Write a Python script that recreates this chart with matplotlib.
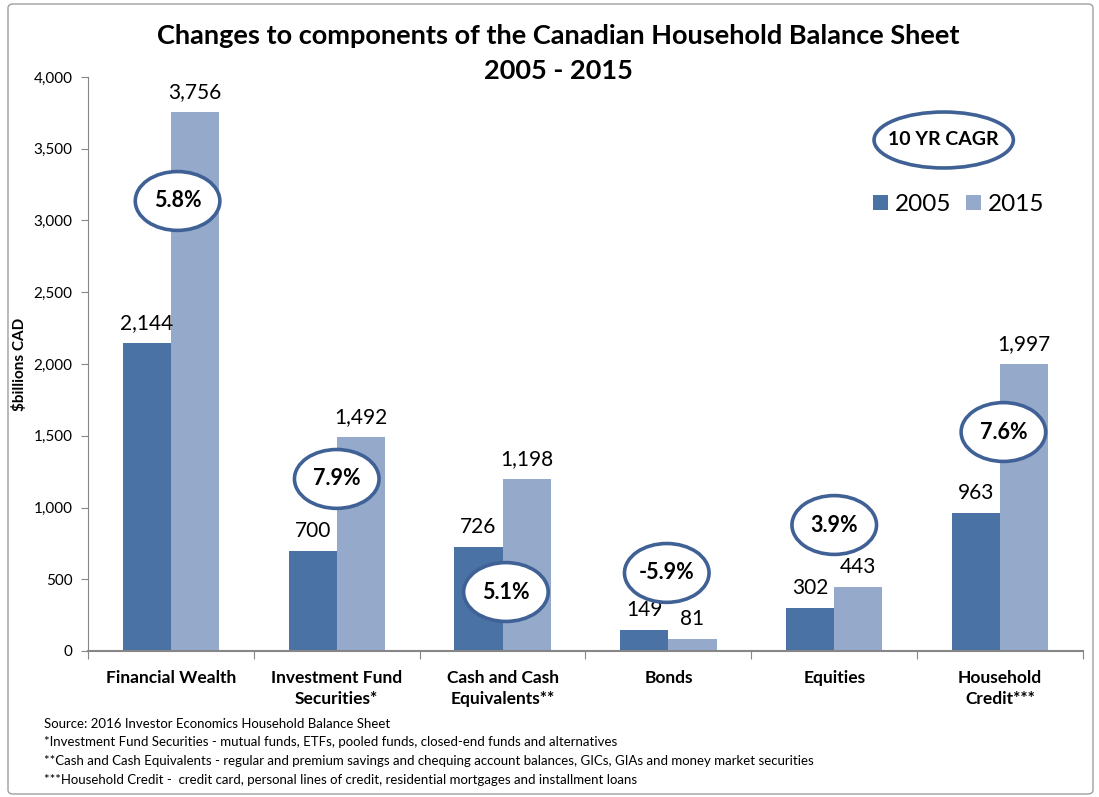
import numpy as np
import matplotlib
matplotlib.use("Agg")
import matplotlib.pyplot as plt
from matplotlib.patches import Ellipse, FancyBboxPatch

plt.rcParams['font.family'] = ['Lato', 'DejaVu Sans']

# datos
categorias = ["Financial Wealth", "Investment Fund\nSecurities*", "Cash and Cash\nEquivalents**",
              "Bonds", "Equities", "Household\nCredit***"]
v2005 = [2144, 700, 726, 149, 302, 963]
v2015 = [3756, 1492, 1198, 81, 443, 1997]
cagr = ["5.8%", "7.9%", "5.1%", "-5.9%", "3.9%", "7.6%"]
notas = ["Source: 2016 Investor Economics Household Balance Sheet",
         "*Investment Fund Securities - mutual funds, ETFs, pooled funds, closed-end funds and alternatives",
         "**Cash and Cash Equivalents - regular and premium savings and chequing account balances, GICs, GIAs and money market securities",
         "***Household Credit -  credit card, personal lines of credit, residential mortgages and installment loans"]

c05 = "#4A72A4"
c15 = "#95A9CB"
borde = "#3F6195"
gris = "#868686"

fig = plt.figure(figsize=(10.99, 7.97), dpi=100)
ax = fig.add_axes([88/1099, 1-651/797, (1083-88)/1099, (651-77)/797])

x = np.arange(len(categorias))
w = 0.29
ax.bar(x - w/2, v2005, w, color=c05, label="2005", zorder=2)
ax.bar(x + w/2, v2015, w, color=c15, label="2015", zorder=2)
for i in range(len(x)):
    ax.text(x[i] - w/2, v2005[i] + 70, format(v2005[i], ","), ha="center", va="bottom", fontsize=15)
    ax.text(x[i] + w/2, v2015[i] + 70, format(v2015[i], ","), ha="center", va="bottom", fontsize=15)

# elipses CAGR (posicion a ojo)
ex = [0.04, 1.0, 2.02, 2.99, 4.0, 5.02]
ey = [3136, 1199, 411, 544, 878, 1526]
for i in range(len(cagr)):
    ax.add_patch(Ellipse((ex[i], ey[i]), 0.51, 410, facecolor="white", edgecolor=borde,
                         linewidth=2.6, zorder=5))
    ax.text(ex[i], ey[i], cagr[i], ha="center", va="center", fontsize=15.5, fontweight="bold", zorder=6)
ax.add_patch(Ellipse((4.66, 3561), 0.84, 390, facecolor="white", edgecolor=borde, linewidth=2.6, zorder=5))
ax.text(4.66, 3561, "10 YR CAGR", ha="center", va="center", fontsize=14, fontweight="bold", zorder=6)

ax.set_xlim(-0.5, 5.5)
ax.set_ylim(0, 4000)
ax.set_yticks(np.arange(0, 4001, 500))
ax.set_yticklabels([format(t, ",") for t in range(0, 4001, 500)], fontsize=11)
ax.set_xticks(np.arange(-0.5, 5.6, 1))
ax.set_xticklabels([])
ax.set_xticks(x, minor=True)
ax.set_xticklabels(categorias, minor=True, fontsize=12.5, fontweight="bold", linespacing=1.35)
ax.tick_params(axis="x", which="minor", length=0, pad=14)
ax.tick_params(axis="x", which="major", length=6, color=gris)
ax.tick_params(axis="y", length=5, color=gris, pad=6)
for s in ["top", "right"]:
    ax.spines[s].set_visible(False)
ax.spines["left"].set_color(gris)
ax.spines["bottom"].set_color(gris)
ax.spines["bottom"].set_linewidth(1.5)
ax.set_ylabel("$billions CAD", fontsize=11, fontweight="bold")
ax.yaxis.set_label_coords(-61/995, 0.5)

ax.legend(loc="upper left", bbox_to_anchor=(0.767, 0.834), ncol=2, frameon=False, fontsize=17.5,
          handlelength=0.6, handleheight=0.6, handletextpad=0.3, columnspacing=0.6)

fig.text(558/1099, 1-36/797, "Changes to components of the Canadian Household Balance Sheet",
         ha="center", va="center", fontsize=19.5, fontweight="bold")
fig.text(558/1099, 1-71/797, "2005 - 2015", ha="center", va="center", fontsize=19.5, fontweight="bold")

for k, n in enumerate(notas):
    fig.text(44/1099, 1-(724+18.5*k)/797, n, ha="left", va="center", fontsize=9.5)

fig.patches.append(FancyBboxPatch((8/1099, 3/797), 1085/1099, 790/797, boxstyle="round,pad=0,rounding_size=0.005",
                                  transform=fig.transFigure, fill=False, edgecolor="#A0A0A0", linewidth=1))

plt.savefig("out.png", dpi=100)
